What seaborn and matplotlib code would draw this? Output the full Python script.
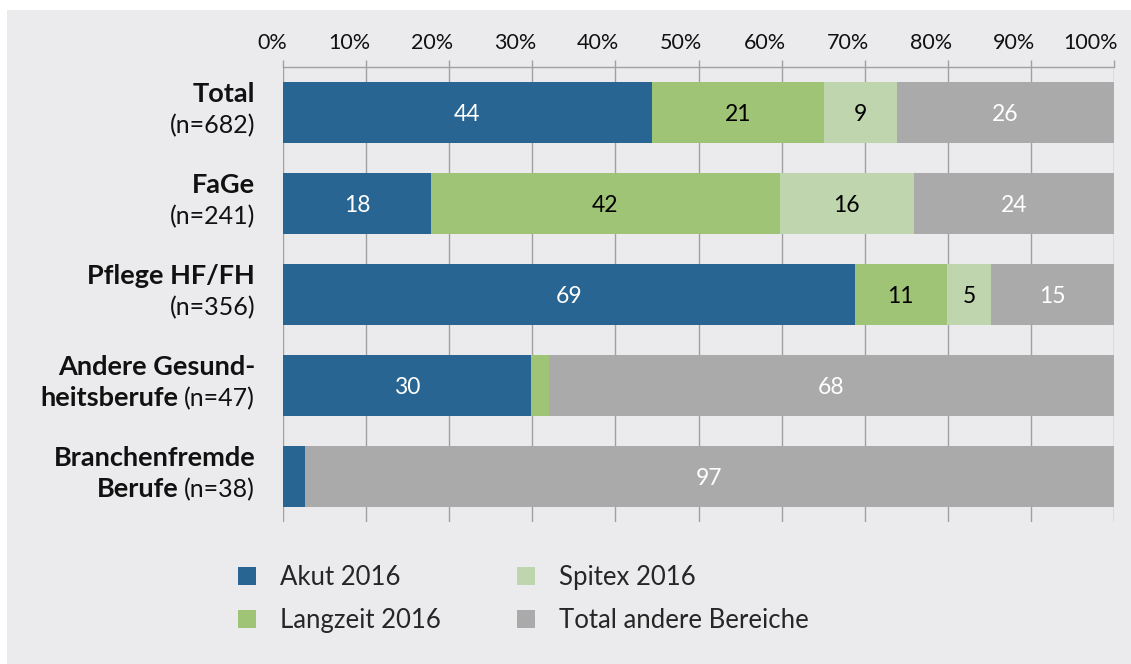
import numpy as np
import matplotlib.pyplot as plt
import seaborn as sns
from matplotlib.patches import Patch, Rectangle
from matplotlib.transforms import ScaledTranslation

# Daten (Anteile in %)
categories = ['Total', 'FaGe', 'Pflege HF/FH', 'Andere Gesundheitsberufe', 'Branchenfremde Berufe']
akut = [44.4, 17.8, 68.8, 29.8, 2.6]
langzeit = [20.7, 42.0, 11.1, 2.2, 0.0]
spitex = [8.8, 16.1, 5.3, 0.0, 0.0]
andere = [26.1, 24.1, 14.8, 68.0, 97.4]

series_names = ['Akut 2016', 'Langzeit 2016', 'Spitex 2016', 'Total andere Bereiche']
series_colors = ['#286592', '#9fc476', '#bed5ad', '#a9aaa9']
label_colors = ['white', 'black', 'black', 'white']

# Beschriftung links: Zeilen aus (Text, fett?)
label_lines = [
    [[('Total', True)], [('(n=682)', False)]],
    [[('FaGe', True)], [('(n=241)', False)]],
    [[('Pflege HF/FH', True)], [('(n=356)', False)]],
    [[('Andere Gesund-', True)], [('heitsberufe', True), ('(n=47)', False)]],
    [[('Branchenfremde', True)], [('Berufe', True), ('(n=38)', False)]],
]

xticks = list(range(0, 101, 10))
xticklabels = [f'{t}%' for t in xticks]

sns.set_theme(style='white')
plt.rcParams['font.family'] = ['Lato', 'DejaVu Sans']

fig = plt.figure(figsize=(11.31, 6.64), dpi=100, facecolor='white')
fig.patches.append(Rectangle((7 / 1131, 0), 1, 1 - 10 / 664, transform=fig.transFigure,
                             facecolor='#ebebed', edgecolor='none', zorder=-10))

ax = fig.add_axes([283 / 1131, 1 - 522 / 664, (1114 - 283) / 1131, (522 - 67) / 664])
ax.set_facecolor('none')

values = [akut, langzeit, spitex, andere]
cum = np.cumsum(values, axis=0)

# gestapelt: laengste Summe zuerst, kuerzere darueber
for i in reversed(range(len(values))):
    sns.barplot(x=cum[i], y=categories, orient='h', color=series_colors[i], saturation=1,
                width=0.66, errorbar=None, linewidth=0, ax=ax)

# Werte in den Segmenten
for i in range(len(values)):
    for j in range(len(categories)):
        v = values[i][j]
        if v >= 4:
            ax.text(cum[i][j] - v / 2, j, f'{round(v)}', ha='center', va='center_baseline',
                    color=label_colors[i], fontsize=16.5)

ax.set_xlim(0, 100)
ax.set_xlabel('')
ax.set_ylabel('')
ax.set_xticks(xticks, xticklabels)
ax.tick_params(axis='x', top=True, bottom=False, labeltop=True, labelbottom=False,
               direction='out', length=5, width=1, color='#a0a0a0', pad=5,
               labelsize=15.5, labelcolor='#111111')
offset = ScaledTranslation(4 / 100, 0, fig.dpi_scale_trans)
for lbl in ax.get_xticklabels():
    lbl.set_ha('right')
    lbl.set_transform(lbl.get_transform() + offset)
ax.tick_params(axis='y', left=False, labelleft=False)
ax.grid(axis='x', color='#a0a0a0', linewidth=1)
ax.grid(axis='y', visible=False)
ax.set_axisbelow(True)
for side in ['left', 'right', 'bottom']:
    ax.spines[side].set_visible(False)
ax.spines['top'].set_color('#a0a0a0')
ax.spines['top'].set_linewidth(1)


def draw_line(pieces, j, dy):
    prev = None
    for text, bold in reversed(pieces):
        kw = dict(fontsize=19.5, fontweight='bold') if bold else dict(fontsize=18)
        if prev is None:
            prev = ax.annotate(text, xy=(0, j), xycoords=('axes fraction', 'data'),
                               xytext=(-20, dy), textcoords='offset points', ha='right',
                               va='baseline', color='#111111', annotation_clip=False, **kw)
        else:
            prev = ax.annotate(text, xy=(0, 0), xycoords=prev, xytext=(-4, 0),
                               textcoords='offset points', ha='right', va='bottom',
                               color='#111111', annotation_clip=False, **kw)


for j, lines in enumerate(label_lines):
    draw_line(lines[0], j, 7.6)
    draw_line(lines[1], j, -15)

handles = [Patch(facecolor=c, edgecolor='none') for c in series_colors]
leg_kw = dict(loc='center left', frameon=False, fontsize=18.5, handlelength=0.7,
              handleheight=0.7, handletextpad=0.92, labelspacing=0.72,
              borderpad=0, borderaxespad=0)
fig.legend(handles[:2], series_names[:2], bbox_to_anchor=(238 / 1131, 1 - 599 / 664), **leg_kw)
fig.legend(handles[2:], series_names[2:], bbox_to_anchor=(517 / 1131, 1 - 599 / 664), **leg_kw)

fig.savefig('out.png', dpi=100)
